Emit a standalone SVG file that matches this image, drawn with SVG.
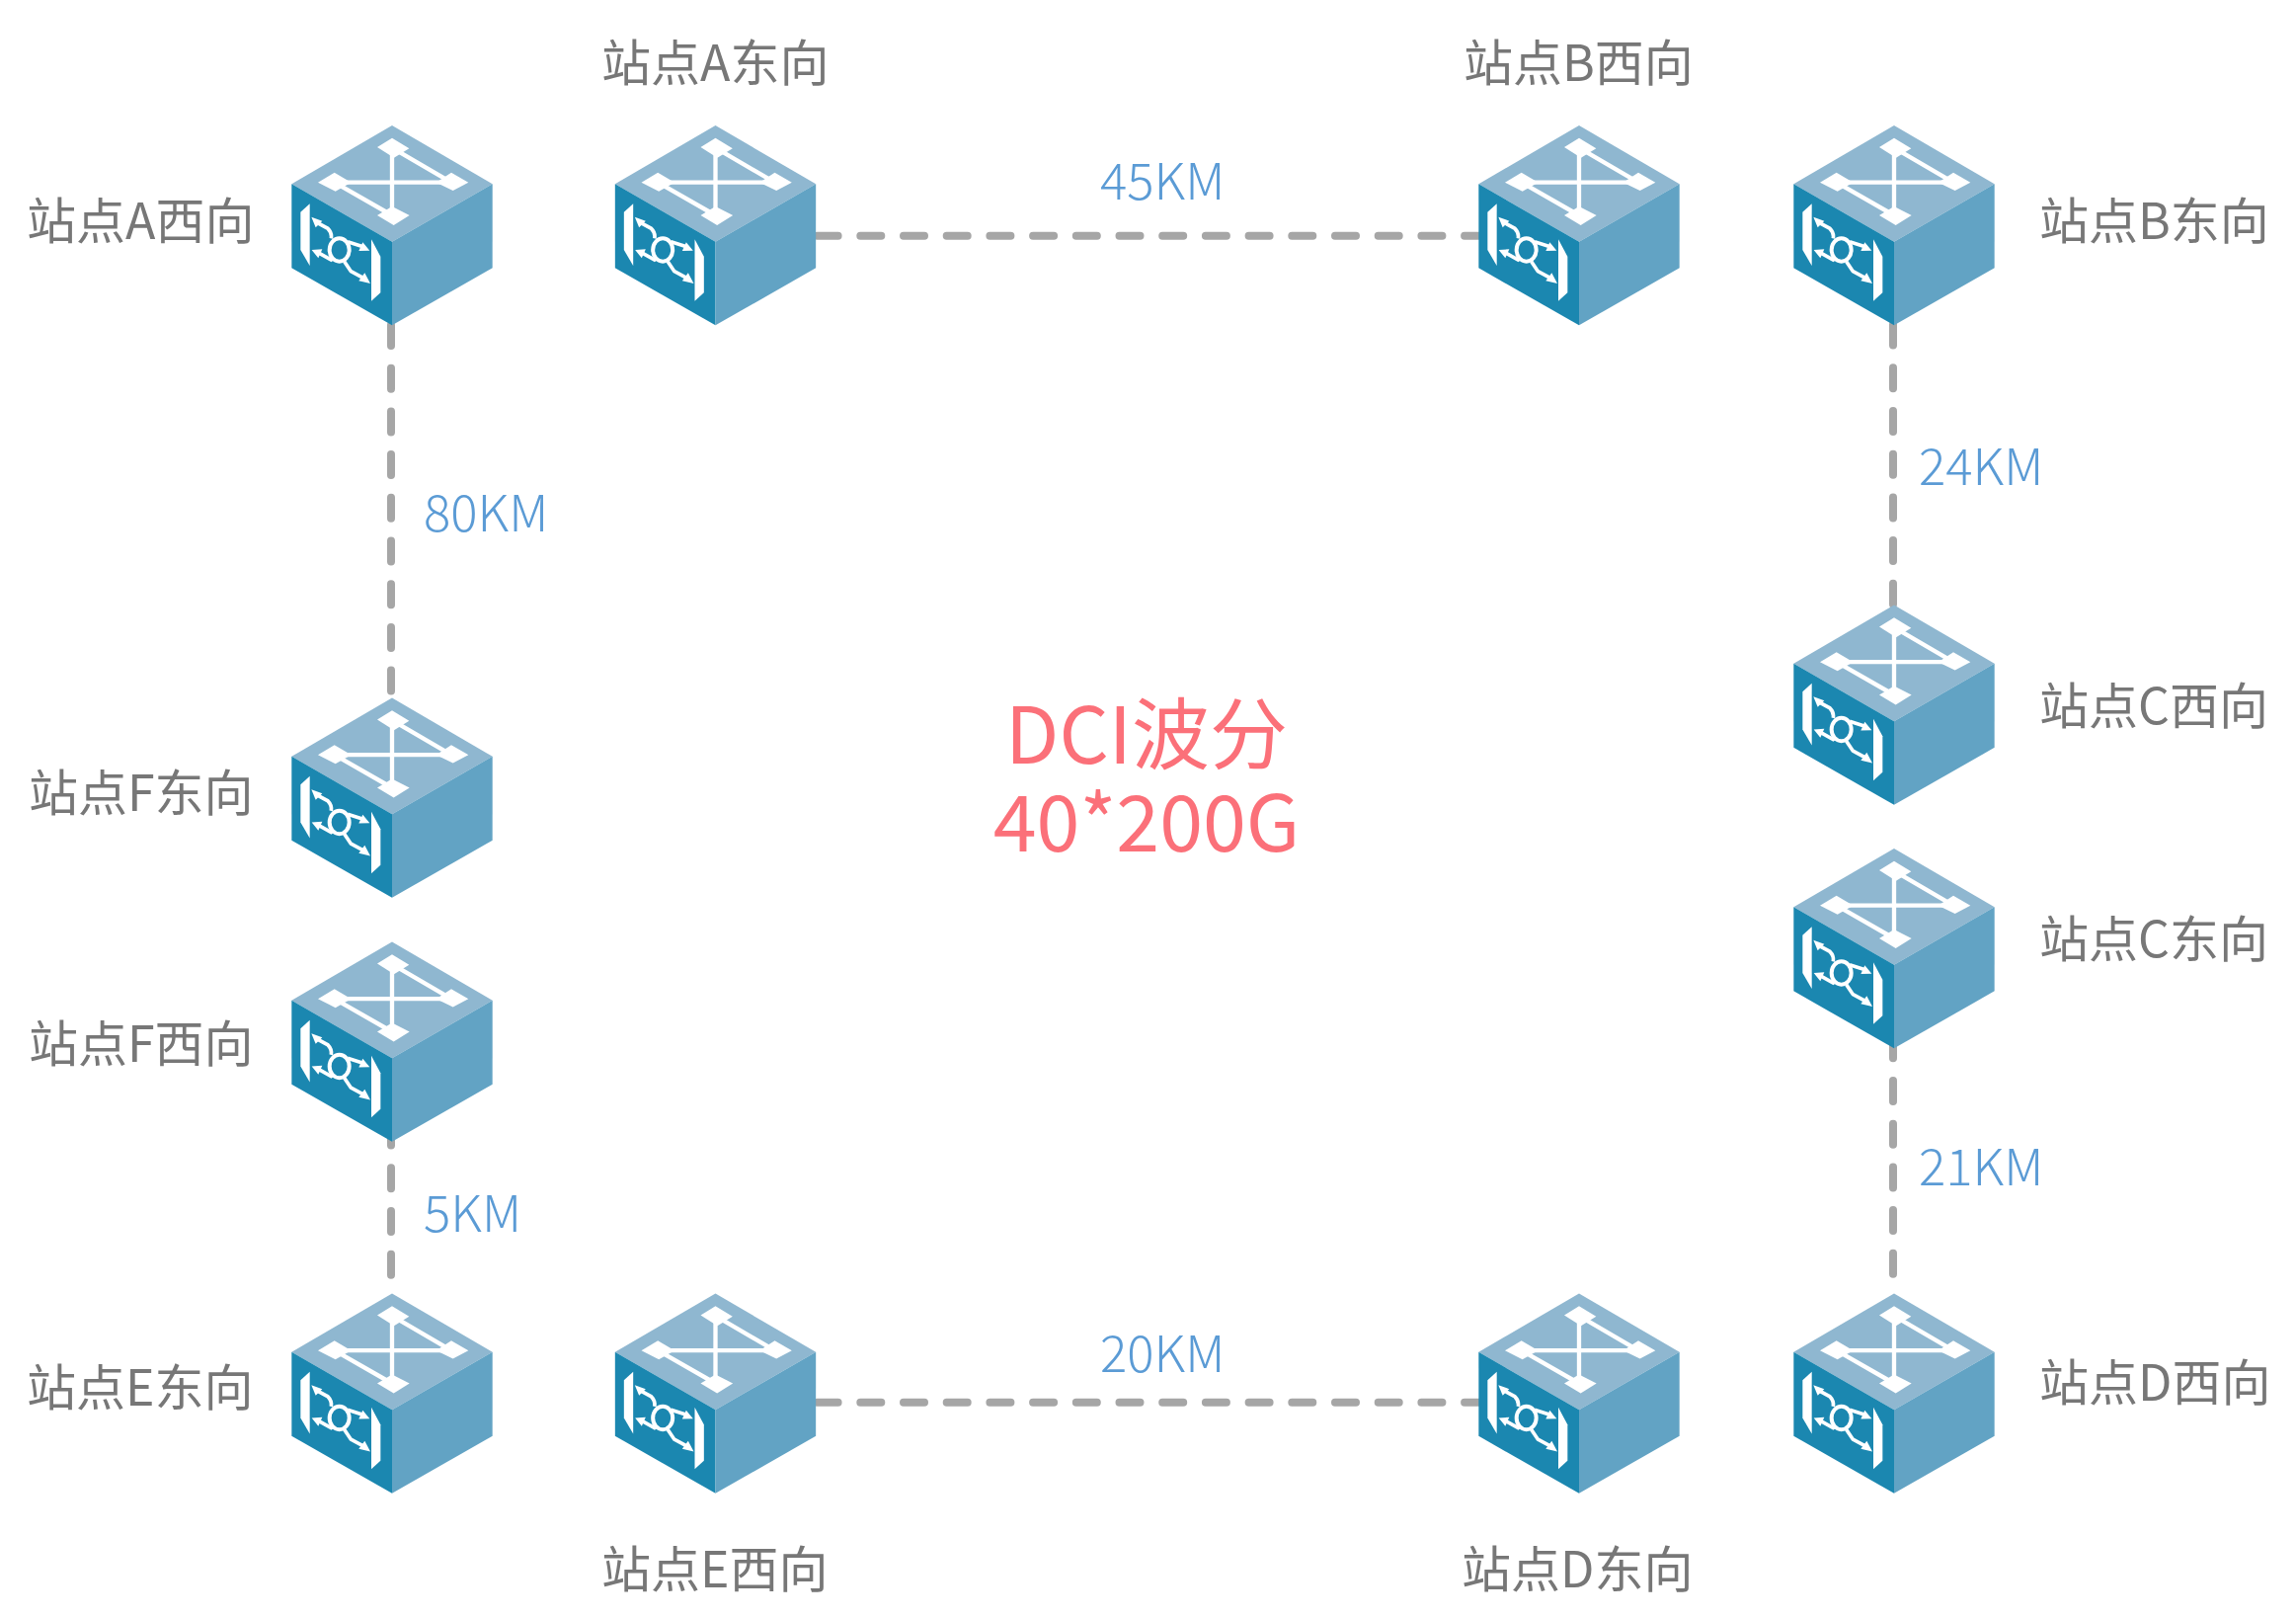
<svg xmlns="http://www.w3.org/2000/svg" width="2325" height="1638" viewBox="0 0 2325 1638">
<style>
text{font-family:"Noto Sans CJK SC","Noto Sans",sans-serif}
.l{font-size:50px;fill:#777}
.k{font-size:51px;fill:#5b9bd5;font-weight:300}
.t{font-size:79px;fill:#fb7079;text-anchor:middle}
.c{stroke:#a6a6a6;stroke-width:8;stroke-dasharray:21 22.7;stroke-linecap:round;fill:none}
</style>
<defs>
<g id="dev" transform="scale(.33333) translate(-350,-52)">
<polygon points="350,52 655,230 350,405 45,230" fill="#8fb7d0"/>
<polygon points="45,230 350,405 350,659 45,485" fill="#1b87b0"/>
<polygon points="655,230 350,405 350,659 655,485" fill="#62a3c4"/>
<g fill="#fff">
<polygon points="305,118 350,90 402,122 356,150"/>
<polygon points="125,225 175,195 226,225 178,252"/>
<polygon points="484,225 530,195 582,225 535,250"/>
<polygon points="305,325 350,298 403,325 355,355"/>
<polygon points="100,290 72,315 72,430 100,478"/>
<polygon points="287,398 315,450 315,560 287,585"/>
<polygon points="105,330 138,342 118,362"/>
<polygon points="282,432 261,407 249,433"/>
<polygon points="106,430 138,428 126,455"/>
<polygon points="284,532 249,524 267,500"/>
</g>
<g fill="none" stroke="#fff" stroke-width="13">
<path d="M350,120V325M175,225H530M175,225L350,325M350,120L530,225"/>
<ellipse cx="190" cy="430" rx="30" ry="35" stroke-width="12"/>
<path d="M118,345L155,365Q168,378 165,395M215,405L262,420M125,438L165,460L172,455M205,465L225,495L268,518" stroke-width="11"/>
</g>
</g>
</defs>
<g id="connectors">
<path class="c" d="M396,329V704"/>
<path class="c" d="M396,1138.6V1305"/>
<path class="c" d="M827.6,238.7H1500"/>
<path class="c" d="M827.6,1419.7H1500"/>
<path class="c" d="M1917,328.6V614"/>
<path class="c" d="M1917,1050.3V1305"/>
</g>
<g id="aw"><use href="#dev" x="397" y="127"/><text class="l" x="27" y="242">站点A西向</text></g>
<g id="ae"><use href="#dev" x="724.5" y="127"/><text class="l" x="609" y="82">站点A东向</text></g>
<g id="bw"><use href="#dev" x="1599" y="127"/><text class="l" x="1482" y="82">站点B西向</text></g>
<g id="be"><use href="#dev" x="1918" y="127"/><text class="l" x="2065" y="242">站点B东向</text></g>
<g id="cw"><use href="#dev" x="1918" y="612.5"/><text class="l" x="2065" y="733">站点C西向</text></g>
<g id="ce"><use href="#dev" x="1918" y="859"/><text class="l" x="2065" y="969">站点C东向</text></g>
<g id="dw"><use href="#dev" x="1918" y="1309.5"/><text class="l" x="2065" y="1418">站点D西向</text></g>
<g id="de"><use href="#dev" x="1599" y="1309.5"/><text class="l" x="1480" y="1607">站点D东向</text></g>
<g id="ew"><use href="#dev" x="724.5" y="1309.5"/><text class="l" x="609" y="1607">站点E西向</text></g>
<g id="ee"><use href="#dev" x="397" y="1309.5"/><text class="l" x="27" y="1423">站点E东向</text></g>
<g id="fe"><use href="#dev" x="397" y="706.5"/><text class="l" x="29" y="821">站点F东向</text></g>
<g id="fw"><use href="#dev" x="397" y="953.5"/><text class="l" x="29" y="1075">站点F西向</text></g>
<g id="labels">
<text class="k" x="1114" y="202">45KM</text>
<text class="k" x="429" y="538">80KM</text>
<text class="k" x="1943" y="491">24KM</text>
<text class="k" x="1943" y="1200">21KM</text>
<text class="k" x="429" y="1247">5KM</text>
<text class="k" x="1114" y="1389">20KM</text>
<text class="t" x="1161" y="773">DCI波分</text>
<text class="t" x="1161" y="862">40*200G</text>
</g>
</svg>
